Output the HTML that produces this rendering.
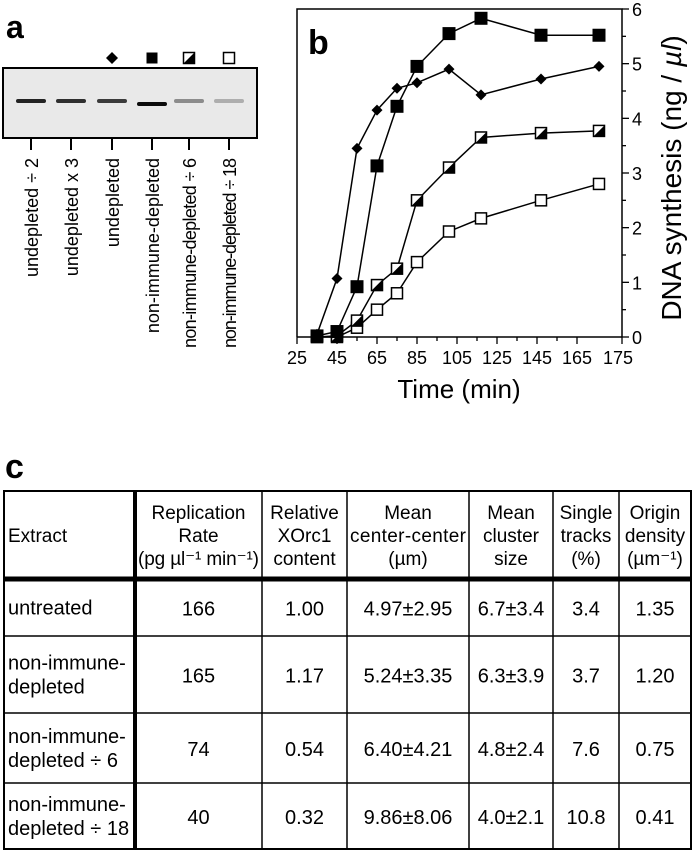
<!DOCTYPE html>
<html><head><meta charset="utf-8"><style>
body{margin:0;background:#fff;width:694px;height:853px;overflow:hidden;font-family:"Liberation Sans",Arial,sans-serif}
svg{position:absolute;left:0;top:0}
</style></head><body>
<svg width="694" height="853" viewBox="0 0 694 853">
<g>
<text x="6" y="38" font-size="32" font-weight="bold">a</text>
<rect x="3" y="68" width="254" height="70" fill="#e9e9e9" stroke="#000" stroke-width="2"/>
<g id="lanes"></g>
</g>
<g>
<text x="308" y="54" font-size="34" font-weight="bold">b</text>
<g id="chart"></g>
</g>
<g>
<text x="5" y="478" font-size="34" font-weight="bold">c</text>
<g id="table"></g>
</g>
</svg>
<script>
const NS="http://www.w3.org/2000/svg";
function mk(p,t,a){const e=document.createElementNS(NS,t);for(const k in a)e.setAttribute(k,a[k]);p.appendChild(e);return e;}
// chart data
const times=[35,45,55,65,75,85,101,117,147,176];
const diamondVals=[0.05,1.07,3.45,4.15,4.55,4.65,4.9,4.43,4.72,4.95];
const squareVals=[0.02,0.1,0.92,3.13,4.22,4.95,5.55,5.83,5.52,5.52];
const halfVals=[0,0.02,0.3,0.95,1.25,2.5,3.1,3.65,3.73,3.77];
const openVals=[0,0,0.17,0.5,0.8,1.37,1.93,2.17,2.5,2.8];
const xTicks=[25,45,65,85,105,125,145,165];
const xEndLabel='175';
const yTicks=[0,1,2,3,4,5,6];
const X0=297,X1=622,Y0=337,Y1=9;
const xs=v=>X0+(v-25)*2;
const ys=v=>Y0-v/6*(Y0-Y1);
const ch=document.getElementById('chart');
let frame=mk(ch,'path',{d:`M${X0},${Y0}V${Y1}H${X1}V${Y0}`,fill:'none',stroke:'#000','stroke-width':1.5});


let xa=mk(ch,'line',{x1:X0,x2:X1,y1:Y0,y2:Y0,stroke:'#000','stroke-width':1.5});


for(let v=25;v<=165;v+=10){const major=(v-25)%20===0;
 mk(ch,'line',{x1:xs(v),x2:xs(v),y1:Y0,y2:Y0+(major?7:4),stroke:'#000','stroke-width':1.3});}
mk(ch,'line',{x1:X1,x2:X1,y1:Y0,y2:Y0+7,stroke:'#000','stroke-width':1.3});
xTicks.forEach(v=>{const t=mk(ch,'text',{x:xs(v),y:364,'font-size':18,'text-anchor':'middle'});t.textContent=v;
 
 });
let te=mk(ch,'text',{x:X1-4,y:364,'font-size':18,'text-anchor':'middle'});te.textContent=xEndLabel;


for(let v=0;v<=6;v+=0.5){mk(ch,'line',{x1:X1,x2:X1+(v%1===0?7:4),y1:ys(v),y2:ys(v),stroke:'#000','stroke-width':1.3});}
yTicks.forEach(v=>{const t=mk(ch,'text',{x:632,y:ys(v)+7,'font-size':18});t.textContent=v;
 
 });
let xt=mk(ch,'text',{x:459,y:398,'font-size':26,'text-anchor':'middle'});xt.textContent='Time (min)';


let yt=mk(ch,'text',{transform:'translate(681,178) rotate(-90)','font-size':28,'text-anchor':'middle'});
yt.innerHTML='DNA synthesis  (ng / <tspan font-style="italic">µl</tspan>)';


function series(vals,kind,name){
 const g=mk(ch,'g',{});
 
 
 mk(g,'polyline',{points:times.map((t,i)=>xs(t)+','+ys(vals[i])).join(' '),fill:'none',stroke:'#000','stroke-width':1.5});
 times.forEach((t,i)=>{const x=xs(t),y=ys(vals[i]);drawMarker(g,kind,x,y,kind==='square'?6.5:5.5);});
}
function drawMarker(g,kind,x,y,s){
 if(kind==='diamond')mk(g,'path',{d:`M${x},${y-s}L${x+s},${y}L${x},${y+s}L${x-s},${y}Z`,fill:'#000'});
 else if(kind==='square')mk(g,'rect',{x:x-s,y:y-s,width:2*s,height:2*s,fill:'#000'});
 else if(kind==='open')mk(g,'rect',{x:x-s,y:y-s,width:2*s,height:2*s,fill:'#fff',stroke:'#000','stroke-width':1.5});
 else{mk(g,'rect',{x:x-s,y:y-s,width:2*s,height:2*s,fill:'#fff',stroke:'#000','stroke-width':1.5});
  mk(g,'path',{d:`M${x+s},${y-s}L${x+s},${y+s}L${x-s},${y+s}Z`,fill:'#000'});}
}
series(openVals,'open','series-open-square');
series(halfVals,'half','series-half-square');
series(diamondVals,'diamond','series-diamond');
series(squareVals,'square','series-filled-square');
// gel
const laneNames=['undepleted ÷ 2','undepleted x 3','undepleted','non-immune-depleted','non-immune-depleted ÷ 6','non-immune-depleted ÷ 18'];
const laneX=[31,71,112,152,189,229];
const bandOp=[0.85,0.8,0.75,0.95,0.4,0.25];
const laneMarks=[null,null,'diamond','square','half','open'];
const ln=document.getElementById('lanes');
laneNames.forEach((n,i)=>{const x=laneX[i];
 const b=mk(ln,'rect',{x:x-15,y:i===3?102:99,width:30,height:4,rx:2,fill:'#000',opacity:bandOp[i]});
 
 
 mk(ln,'line',{x1:x,x2:x,y1:138,y2:150,stroke:'#000','stroke-width':2});
 const t=mk(ln,'text',{transform:`translate(${x+7},158) rotate(-90)`,'font-size':18,'text-anchor':'end'});
 if(i>=4)t.setAttribute('textLength',190);
 t.textContent=n;
 
 
 if(laneMarks[i]){const g=mk(ln,'g',{});
  
  
  drawMarker(g,laneMarks[i],x,58,laneMarks[i]==='diamond'?6:5.5);}
});
// table
const tb=document.getElementById('table');
const colX=[4,135,262,347,469,553,619,691];
const rowY=[491,579,636,713,783,849];
const headers=[['Extract'],['Replication','Rate','(pg µl⁻¹ min⁻¹)'],['Relative','XOrc1','content'],['Mean','center-center','(µm)'],['Mean','cluster','size'],['Single','tracks','(%)'],['Origin','density','(µm⁻¹)']];
const rows=[[['untreated'],'166','1.00','4.97±2.95','6.7±3.4','3.4','1.35'],
 [['non-immune-','depleted'],'165','1.17','5.24±3.35','6.3±3.9','3.7','1.20'],
 [['non-immune-','depleted ÷ 6'],'74','0.54','6.40±4.21','4.8±2.4','7.6','0.75'],
 [['non-immune-','depleted ÷ 18'],'40','0.32','9.86±8.06','4.0±2.1','10.8','0.41']];
const tr=mk(tb,'rect',{x:4,y:491,width:687,height:358,fill:'none',stroke:'#000','stroke-width':2});


colX.slice(1,-1).forEach((x,i)=>mk(tb,'line',{x1:x,x2:x,y1:491,y2:849,stroke:'#000','stroke-width':i===0?4:1.5}));
rowY.slice(1,-1).forEach((y,i)=>mk(tb,'line',{x1:4,x2:691,y1:y,y2:y,stroke:'#000','stroke-width':i===0?5:1.5}));
headers.forEach((h,c)=>{const left=c===0;const cx=left?8:(colX[c]+colX[c+1])/2;
 const n=h.length,top=(rowY[0]+rowY[1])/2-(n-1)*11.5+7;
 h.forEach((l,k)=>{const t=mk(tb,'text',{x:cx,y:top+k*23,'font-size':19,'text-anchor':left?'start':'middle'});
  if(l.length>12)t.setAttribute('textLength',Math.min(l.length*9.4,(colX[c+1]-colX[c])-6));
  t.textContent=l;
  
  });});
rows.forEach((r,ri)=>{const mid=(rowY[ri+1]+rowY[ri+2])/2;
 r[0].forEach((l,k)=>{const t=mk(tb,'text',{x:8,y:mid+7+(k-(r[0].length-1)/2)*24,'font-size':20});t.textContent=l;
  
  });
 r.slice(1).forEach((v,c)=>{const t=mk(tb,'text',{x:(colX[c+1]+colX[c+2])/2,y:mid+8,'font-size':20,'text-anchor':'middle'});t.textContent=v;
  
  });
});
</script>
</body></html>
